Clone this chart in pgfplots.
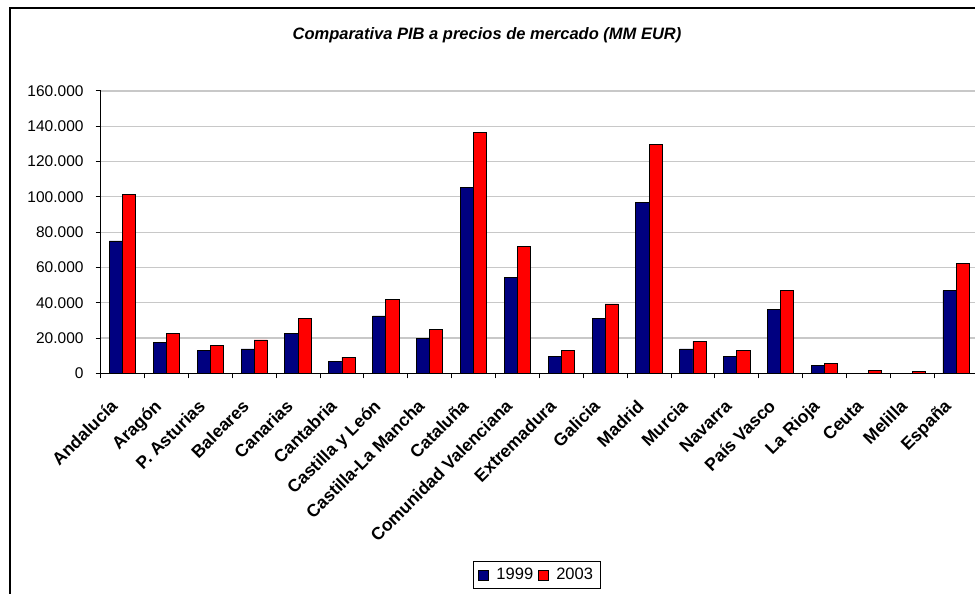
\documentclass[border=0pt]{standalone}
\usepackage{pgfplots}
\pgfplotsset{compat=1.18}
\usepackage{fontspec}
\setmainfont{Liberation Sans}
\definecolor{navyb}{HTML}{000080}
\definecolor{redb}{HTML}{FF0000}
\definecolor{gridg}{HTML}{C8C8C8}
\begin{document}
\begin{tikzpicture}[x=1pt,y=1pt]
\useasboundingbox (0,0) rectangle (975,594);
\begin{scope}
\clip (0,0) rectangle (975,594);
\draw[line width=2pt, black] (10,-10) -- (10,586) -- (990,586);
\node[font=\fontsize{16.5}{18}\selectfont\bfseries\itshape] at (487,559) {Comparativa PIB a precios de mercado (MM EUR)};
\begin{axis}[
  at={(100.7pt,220.7pt)}, anchor=south west,
  scale only axis, width=877.4pt, height=282.3pt,
  ybar=0pt, bar width=13.2pt,
  xmin=-0.5, xmax=19.5, ymin=0, ymax=160000,
  scaled y ticks=false,
  ytick={0,20000,40000,60000,80000,100000,120000,140000,160000},
  yticklabels={0,20.000,40.000,60.000,80.000,100.000,120.000,140.000,160.000},
  xtick={0,...,19},
  xticklabels={Andalucía,Aragón,P. Asturias,Baleares,Canarias,Cantabria,Castilla y León,Castilla-La Mancha,Cataluña,Comunidad Valenciana,Extremadura,Galicia,Madrid,Murcia,Navarra,País Vasco,La Rioja,Ceuta,Melilla,España},
  minor xtick={-0.5,0.5,...,19.5},
  major x tick style={draw=none},
  axis x line*=bottom, axis y line*=left,
  axis line style={black, line width=1.2pt},
  ymajorgrids, grid style={gridg, line width=1.1pt},
  tick align=outside, major tick length=5pt, minor tick length=5pt,
  tick style={black, line width=1pt},
  yticklabel style={font=\fontsize{15.5}{17}\selectfont, anchor=east, inner sep=0pt, xshift=-12pt},
  xticklabel style={font=\fontsize{17.5}{19}\selectfont\bfseries, anchor=base east, inner sep=0pt, xshift=-4pt, yshift=-29pt, rotate=45},
  legend style={at={(axis description cs:0.4243,-0.665)}, anchor=north west, draw=black, line width=0.8pt,
    inner xsep=5pt, inner ysep=5pt, font=\fontsize{16.5}{18}\selectfont, legend columns=2,
    /tikz/every even column/.append style={column sep=3pt}},
  legend cell align=left,
  clip=false,
]
\addplot[fill=navyb, draw=black, line width=0.9pt,
  legend image code/.code={\draw[fill=navyb,draw=black,line width=0.6pt] (0pt,-5pt) rectangle (9.5pt,4.5pt);}]
 coordinates {(0,75000) (1,17600) (2,13000) (3,13800) (4,22700) (5,6800) (6,32500) (7,19800) (8,105500) (9,54400) (10,9800) (11,31200) (12,96800) (13,13800) (14,9800) (15,36300) (16,4500) (17,0) (18,0) (19,46900)};
\addplot[fill=redb, draw=black, line width=0.9pt,
  legend image code/.code={\draw[fill=redb,draw=black,line width=0.6pt] (0pt,-5pt) rectangle (9.5pt,4.5pt);}]
 coordinates {(0,101500) (1,22700) (2,15900) (3,18900) (4,31000) (5,9100) (6,41600) (7,25100) (8,136500) (9,71800) (10,12900) (11,39300) (12,129500) (13,18100) (14,12900) (15,46900) (16,5300) (17,1500) (18,800) (19,62200)};
\legend{\hspace{6pt}1999,\hspace{6pt}2003}
\end{axis}
\end{scope}
\end{tikzpicture}
\end{document}
